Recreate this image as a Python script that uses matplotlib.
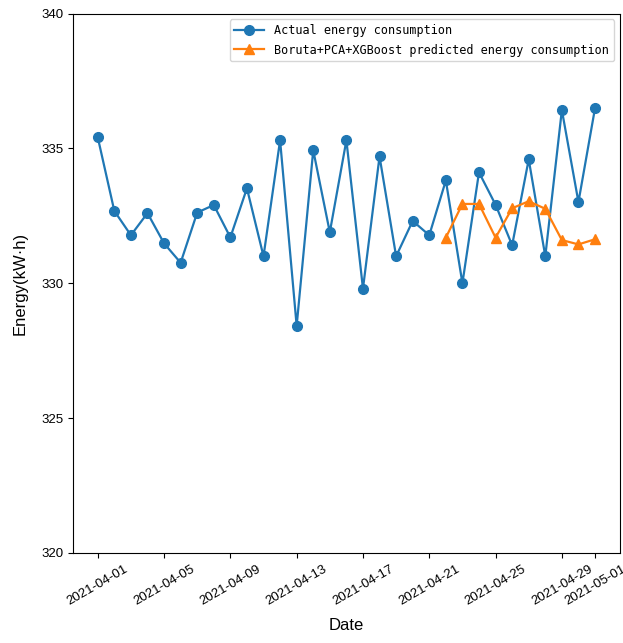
import numpy as np
import pandas as pd
import matplotlib
matplotlib.use("Agg")
import matplotlib.pyplot as plt
import matplotlib.dates as mdates

# Daily measured energy consumption, 2021-04-01 .. 2021-05-01
actual_dates = pd.date_range("2021-04-01", "2021-05-01", freq="D")
actual_values = [335.41, 332.68, 331.78, 332.60, 331.48, 330.76, 332.62, 332.90,
                 331.70, 333.52, 331.00, 335.30, 328.42, 334.93, 331.89, 335.30,
                 329.80, 334.70, 331.00, 332.31, 331.78, 333.81, 330.00, 334.11,
                 332.91, 331.41, 334.59, 331.00, 336.42, 333.01, 336.49]

# Model predictions for the test window, 2021-04-22 .. 2021-05-01
pred_dates = pd.date_range("2021-04-22", "2021-05-01", freq="D")
pred_values = [331.69, 332.94, 332.94, 331.69, 332.78, 333.04, 332.76,
               331.60, 331.44, 331.63]

actual_label = "Actual energy consumption"
pred_label = "Boruta+PCA+XGBoost predicted energy consumption"
y_ticks = [320, 325, 330, 335, 340]

plt.rcParams["font.family"] = ["Liberation Sans", "DejaVu Sans"]

fig = plt.figure(figsize=(6.23, 6.43), dpi=100)
ax = fig.add_axes([0.117, 0.14, 0.878, 0.839])

ax.plot(actual_dates, actual_values, color="#1f77b4", marker="o",
        markersize=7, linewidth=1.6, label=actual_label)
ax.plot(pred_dates, pred_values, color="#ff7f0e", marker="^",
        markersize=7, linewidth=1.6, label=pred_label)

ax.set_ylim(320, 340)
ax.set_yticks(y_ticks)
ax.xaxis.set_major_locator(mdates.DayLocator(bymonthday=range(1, 32, 4)))
ax.xaxis.set_major_formatter(mdates.DateFormatter("%Y-%m-%d"))
ax.tick_params(axis="both", labelsize=9.5)
plt.setp(ax.get_xticklabels(), rotation=30)

ax.set_xlabel("Date", fontsize=12, labelpad=8)
ax.set_ylabel("Energy(kW·h)", fontsize=12, labelpad=10)

ax.legend(loc="upper right", prop={"family": "DejaVu Sans Mono", "size": 8.5},
          handlelength=2.55, handletextpad=0.85, labelspacing=0.55)

fig.savefig("out.png", dpi=100)
